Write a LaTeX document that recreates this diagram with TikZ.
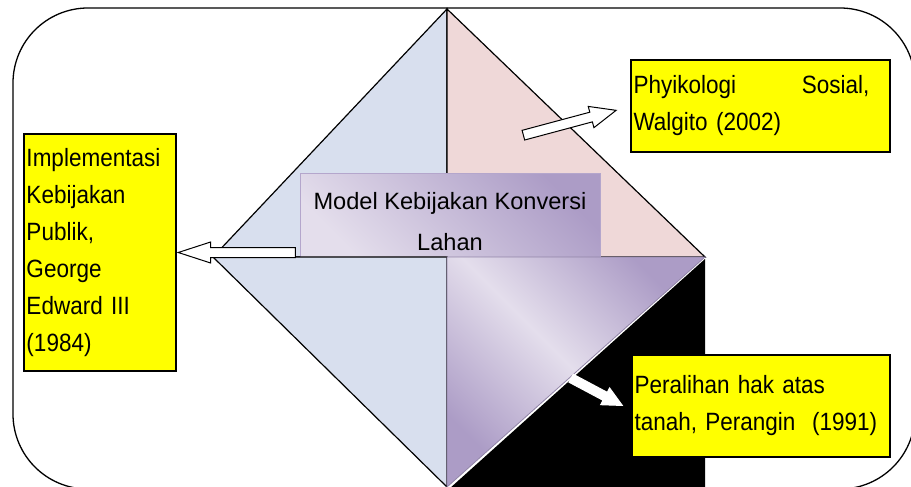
\documentclass[tikz,border=0pt]{standalone}
\usepackage{fontspec}
\setmainfont{Liberation Sans}[FakeStretch=0.9]
\newfontfamily\judulfont{Liberation Sans}
\usetikzlibrary{shapes.arrows, calc}
\definecolor{biru}{RGB}{216,223,238}
\definecolor{jambu}{RGB}{239,216,216}
\definecolor{ungumuda}{RGB}{228,222,236}
\definecolor{ungutua}{RGB}{172,156,198}
\definecolor{kuning}{RGB}{255,255,0}
\tikzset{
  bingkai/.style = {draw=black, line width=1.3pt, rounded corners=75pt},
  segi/.style = {draw=black, line width=1.2pt},
  segiungu/.style = {draw=ungutua!85!black, line width=0.8pt, top color=ungutua,
    bottom color=ungutua, middle color=ungumuda, shading angle=-45},
  kotak/.style = {draw=black, fill=kuning, line width=1.3pt, inner xsep=2.5pt,
    inner ysep=0pt, align=left, font=\fontsize{25}{37}\selectfont},
  model/.style = {draw=ungutua!90, line width=0.8pt, top color=ungutua,
    bottom color=ungumuda, shading angle=-45, minimum width=300pt,
    minimum height=84pt, inner sep=0pt},
  modelrot/.style = {align=center, font=\judulfont\fontsize{23.6}{41}\selectfont},
  panah/.style = {single arrow, draw=black, fill=white, line width=1pt,
    inner xsep=0pt, anchor=tip}
}

\begin{document}
\begin{tikzpicture}[x=1pt, y=-1pt]
  \useasboundingbox (0,0) rectangle (911,487);
  \clip (0,0) rectangle (911,487);
  \draw [bingkai] (13,8) rectangle (915,489);
  \coordinate (atas) at (447,9);
  \coordinate (kiri) at (213,257);
  \coordinate (kanan) at (705,257);
  \coordinate (bawah) at (447,487);
  \coordinate (pusat) at (447,257);
  \fill [black] (705,259) -- (705,489) -- (449,489) -- cycle;
  \filldraw [segi, fill=biru] (atas) -- (kiri) -- (pusat) -- cycle;
  \filldraw [segi, fill=jambu] (atas) -- (kanan) -- (pusat) -- cycle;
  \node [model] (model) at (450,215) {};
  \node [modelrot] (judul) at ([yshift=-7pt]model.center) {Model Kebijakan Konversi\\Lahan};
  \filldraw [segi, fill=biru] (pusat) -- (kiri) -- (bawah) -- cycle;
  \shade [segiungu] (pusat) -- (kanan) -- (bawah) -- cycle;
  \node [kotak, text width=147pt, minimum height=237pt] (implementasi) at (100,252.5)
    {Implementasi\\Kebijakan\\Publik,\\George\\Edward III\\(1984)};
  \node [kotak, text width=254pt, minimum height=92pt] (psikologi) at (760.5,106)
    {\makebox[236pt][l]{Phyikologi\hfill Sosial,}\\Walgito (2002)};
  \node [kotak, text width=253pt, minimum height=102pt] (peralihan) at (761,406)
    {Peralihan hak atas\\tanah, Perangin~ (1991)};
  \node [panah, inner ysep=4.5pt, single arrow head extend=5.5pt,
    single arrow tip angle=36, minimum height=117pt, rotate=180]
    (pkiri) at (implementasi.east) {};
  \node [panah, inner ysep=4.5pt, single arrow head extend=6pt,
    single arrow tip angle=46, minimum height=96pt, rotate=15]
    (patas) at ([xshift=-13pt, yshift=-4pt]psikologi.west) {};
  \node [panah, draw=white, inner ysep=4pt, single arrow head extend=5pt,
    single arrow tip angle=52, minimum height=58pt, rotate=-28]
    (pbawah) at ([xshift=-8pt]peralihan.west) {};
\end{tikzpicture}
\end{document}
